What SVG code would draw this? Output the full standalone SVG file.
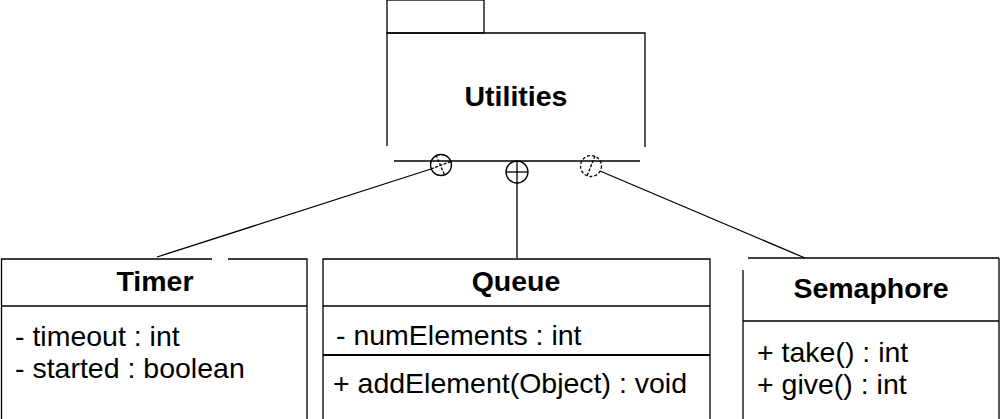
<svg xmlns="http://www.w3.org/2000/svg" width="1000" height="419" viewBox="0 0 1000 419">
<style>
.ln{fill:none;stroke:#000;stroke-width:1.3}
.t{font-family:"Liberation Sans",Arial,sans-serif;font-size:28.5px;fill:#000}
.b{font-weight:bold;text-anchor:middle}
</style>
<rect width="1000" height="419" fill="#fff"/>
<g id="connectors">
<line class="ln" x1="157" y1="257" x2="431" y2="169"/>
<line class="ln" x1="517" y1="183" x2="517" y2="258"/>
<line class="ln" x1="600" y1="171" x2="805" y2="258"/>
</g>
<g id="utilities">
<polyline class="ln" points="387,146 387,33 645,33 645,147"/>
<rect class="ln" x="387" y="0" width="97" height="33"/>
<line class="ln" x1="394" y1="161" x2="640" y2="161"/>
<text class="t b" x="516" y="106">Utilities</text>
<circle class="ln" cx="441" cy="165" r="10.5"/>
<line class="ln" x1="436" y1="155" x2="445" y2="176" stroke-dasharray="3,1.5"/>
<line class="ln" x1="431" y1="169" x2="452" y2="161" stroke-dasharray="3,1.5"/>
<circle class="ln" cx="517" cy="172" r="11"/>
<line class="ln" x1="506" y1="172" x2="528" y2="172"/>
<line class="ln" x1="517" y1="161" x2="517" y2="183"/>
<circle class="ln" cx="591" cy="166" r="10.5" stroke-dasharray="3,2"/>
<line class="ln" x1="595" y1="156" x2="587" y2="176" stroke-dasharray="3,1.5"/>
</g>
<g id="timer">
<polyline class="ln" points="212,259 1.5,259 1.5,419"/>
<polyline class="ln" points="228,259 307,259 307,419"/>
<line class="ln" x1="1.5" y1="306" x2="307" y2="306"/>
<text class="t b" x="155" y="291">Timer</text>
<text class="t" x="15" y="346">- timeout : int</text>
<text class="t" x="15" y="378">- started : boolean</text>
</g>
<g id="queue">
<polyline class="ln" points="323,419 323,259 710,259 710,419"/>
<line class="ln" x1="323" y1="306" x2="710" y2="306"/>
<line x1="323" y1="355" x2="710" y2="355" stroke="#000" stroke-width="2"/>
<text class="t b" x="516" y="291">Queue</text>
<text class="t" x="336" y="345">- numElements : int</text>
<text class="t" x="333" y="393">+ addElement(Object) : void</text>
</g>
<g id="semaphore">
<line class="ln" x1="748" y1="258" x2="999" y2="258"/>
<line class="ln" x1="743" y1="270" x2="743" y2="419"/>
<line class="ln" x1="999" y1="258" x2="999" y2="419"/>
<line class="ln" x1="743" y1="321" x2="999" y2="321"/>
<text class="t b" x="871" y="298">Semaphore</text>
<text class="t" x="757" y="362">+ take() : int</text>
<text class="t" x="757" y="394">+ give() : int</text>
</g>
</svg>
